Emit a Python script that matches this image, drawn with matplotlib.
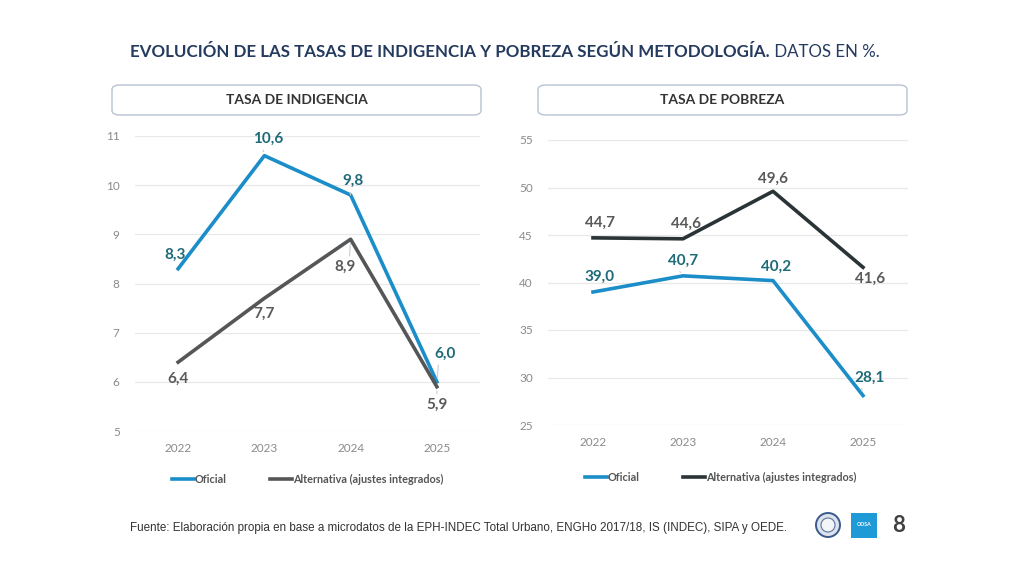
import matplotlib.pyplot as plt
from matplotlib import font_manager
from matplotlib.patches import FancyBboxPatch, Ellipse, Rectangle

years = ["2022", "2023", "2024", "2025"]
indig_oficial = [8.3, 10.6, 9.8, 6.0]
indig_alt = [6.4, 7.7, 8.9, 5.9]
pobreza_oficial = [39.0, 40.7, 40.2, 28.1]
pobreza_alt = [44.7, 44.6, 49.6, 41.6]

indig_ticks = [5, 6, 7, 8, 9, 10, 11]
pobreza_ticks = [25, 30, 35, 40, 45, 50, 55]

COL_OFICIAL = "#1B8DC8"
COL_OFICIAL_TXT = "#1D6B78"
COL_ALT_L = "#555657"
COL_ALT_R = "#2A3437"
COL_ALT_TXT = "#58595B"
COL_GRID = "#E8E8E8"
COL_TICK = "#8A8A8A"
COL_LEADER = "#C9CCCF"
FONT = "Lato"

plt.rcParams["font.family"] = [FONT, "DejaVu Sans"]

# condensed face for the title if there is one
try:
    font_manager.findfont("Liberation Sans Narrow", fallback_to_default=False)
    TITLE_FONT = "Liberation Sans Narrow"
except Exception:
    TITLE_FONT = FONT


def fmt(v):
    return f"{v:.1f}".replace(".", ",")


def label_points(ax, vals, offsets, color, leaders):
    # leaders: None or relpos on the label where the thin leader line starts
    for i, (v, off, lead) in enumerate(zip(vals, offsets, leaders)):
        kw = {}
        if lead is not None:
            kw["arrowprops"] = dict(arrowstyle="-", color=COL_LEADER, lw=0.8,
                                    relpos=lead, shrinkA=1, shrinkB=3)
        ax.annotate(fmt(v), (i, v), xytext=off, textcoords="offset points",
                    ha="center", va="center", fontsize=11, fontweight="bold",
                    color=color, **kw)


def style_axes(ax, ticks, pad_y, pad_x):
    ax.set_xlim(-0.5, 3.5)
    ax.set_ylim(ticks[0], ticks[-1])
    ax.set_yticks(ticks)
    ax.set_xticks(range(len(years)))
    ax.set_xticklabels(years)
    for s in ax.spines.values():
        s.set_visible(False)
    ax.grid(axis="y", color=COL_GRID, linewidth=0.9)
    ax.set_axisbelow(True)
    ax.tick_params(axis="both", length=0, colors=COL_TICK, labelsize=8.5)
    ax.tick_params(axis="y", pad=pad_y)
    ax.tick_params(axis="x", pad=pad_x)


fig = plt.figure(figsize=(10.24, 5.75), dpi=100)
fig.patch.set_facecolor("white")

# --- left: indigencia
ax1 = fig.add_axes([135 / 1024, 1 - 431 / 575, 345 / 1024, 295 / 575])
style_axes(ax1, indig_ticks, 11, 9)
l1, = ax1.plot(range(4), indig_oficial, color=COL_OFICIAL, lw=2.6, label="Oficial")
l2, = ax1.plot(range(4), indig_alt, color=COL_ALT_L, lw=2.6, label="Alternativa (ajustes integrados)")
label_points(ax1, indig_oficial, [(-2, 10), (3, 12), (2, 10), (6, 20)], COL_OFICIAL_TXT,
             [None, (0.3, 0), (0.3, 0), (0.2, 0)])
label_points(ax1, indig_alt, [(0, -12), (0, -11), (-4, -20), (0, -13)], COL_ALT_TXT,
             [None, None, (0.7, 1), (0.5, 1)])
ax1.legend(handles=[l1, l2], loc="center", bbox_to_anchor=(0.5, -0.165), ncol=2,
           frameon=False, handlelength=2.0, handletextpad=0.1, columnspacing=4.0,
           prop={"size": 7.8, "weight": "bold", "family": FONT}, labelcolor="#555555")

# --- right: pobreza
ax2 = fig.add_axes([548 / 1024, 1 - 425 / 575, 360 / 1024, 285 / 575])
style_axes(ax2, pobreza_ticks, 11, 9)
r1, = ax2.plot(range(4), pobreza_oficial, color=COL_OFICIAL, lw=2.6, label="Oficial")
r2, = ax2.plot(range(4), pobreza_alt, color=COL_ALT_R, lw=2.6, label="Alternativa (ajustes integrados)")
label_points(ax2, pobreza_oficial, [(5, 11), (0, 11), (2, 10), (5, 13)], COL_OFICIAL_TXT,
             [None, (0.3, 0), None, (0.2, 0)])
label_points(ax2, pobreza_alt, [(5, 11), (2, 11), (0, 9), (5, -8)], COL_ALT_TXT,
             [None, None, None, None])
ax2.legend(handles=[r1, r2], loc="center", bbox_to_anchor=(0.48, -0.185), ncol=2,
           frameon=False, handlelength=2.0, handletextpad=0.1, columnspacing=4.0,
           prop={"size": 7.8, "weight": "bold", "family": FONT}, labelcolor="#555555")

# --- title, sized to run from x=130 to x=880
title_bold = "EVOLUCIÓN DE LAS TASAS DE INDIGENCIA Y POBREZA SEGÚN METODOLOGÍA."
title_reg = " DATOS EN %."
renderer = fig.canvas.get_renderer()
ty = 1 - 52 / 575
t1 = fig.text(130 / 1024, ty, title_bold, ha="left", va="center", fontsize=14,
              fontweight="bold", color="#243A5E", family=TITLE_FONT)
t2 = fig.text(0, ty, title_reg, ha="left", va="center", fontsize=14,
              color="#243A5E", family=TITLE_FONT)
w = t1.get_window_extent(renderer).width + t2.get_window_extent(renderer).width
size = 14 * 750 / w
t1.set_fontsize(size)
t2.set_fontsize(size)
x2 = t1.get_window_extent(renderer).x1
t2.set_x(x2 / 1024)

# --- header boxes
for x0, txt in [(112, "TASA DE INDIGENCIA"), (538, "TASA DE POBREZA")]:
    box = FancyBboxPatch((x0 / 1024, 1 - 115 / 575), 369 / 1024, 30 / 575,
                         boxstyle="round,pad=0,rounding_size=0.008",
                         transform=fig.transFigure, facecolor="white",
                         edgecolor="#B7C2D2", linewidth=1.0)
    fig.patches.append(box)
    fig.text((x0 + 184.5) / 1024, 1 - 100 / 575, txt, ha="center", va="center",
             fontsize=10, fontweight="bold", color="#333333", family=TITLE_FONT)

# --- footer
fig.text(130 / 1024, 1 - 528 / 575,
         "Fuente: Elaboración propia en base a microdatos de la EPH-INDEC Total Urbano, "
         "ENGHo 2017/18, IS (INDEC), SIPA y OEDE.",
         ha="left", va="center", fontsize=8.35, color="#333333", family="Liberation Sans")

seal = Ellipse((828 / 1024, 1 - 525 / 575), 24 / 1024, 24 / 575, transform=fig.transFigure,
               facecolor="#DCE3EE", edgecolor="#3A5A8C", linewidth=1.4)
fig.patches.append(seal)
seal_in = Ellipse((828 / 1024, 1 - 525 / 575), 14 / 1024, 14 / 575, transform=fig.transFigure,
                  facecolor="#F3F5F9", edgecolor="#5A7399", linewidth=0.8)
fig.patches.append(seal_in)
sq = Rectangle((851 / 1024, 1 - 538 / 575), 26 / 1024, 25 / 575, transform=fig.transFigure,
               facecolor="#1E9AD6", edgecolor="none")
fig.patches.append(sq)
fig.text(864 / 1024, 1 - 525 / 575, "ODSA", ha="center", va="center", fontsize=3.8,
         color="white", fontweight="bold")
fig.text(899 / 1024, 1 - 525 / 575, "8", ha="center", va="center", fontsize=16,
         color="#404040", fontweight="bold")

fig.savefig("out.png", dpi=100)
